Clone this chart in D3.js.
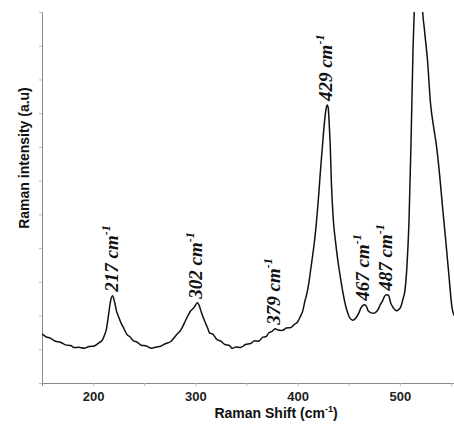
<!DOCTYPE html>
<html>
<head>
<meta charset="utf-8">
<script src="https://cdn.jsdelivr.net/npm/d3@7"></script>
<style>
  html, body { margin: 0; padding: 0; background: #fff; }
  svg { display: block; }
</style>
</head>
<body>
<div id="chart"></div>
<script>
// Raman spectrum
const shiftCm = [150,154,158,163,168,173,178,182,186,191,196,201,206,209,211,213,215,217,219,221,223,225,227,230,233,236,239,243,247,252,257,262,266,271,276,281,286,291,295,299,302,304,306,308,310,312,314,317,321,325,329,333,336,340,344,349,354,358,362,366,369,372,375,378,381,384,386,389,393,397,400,403,405,407,409,411,412,414,416,418,419,421,422,424,426,428,429,430,431,432,433,435,437,439,441,444,447,449,451,454,457,460,462,464,465,467,469,472,474,476,479,481,483,485,487,489,491,493,495,497,499,501,503,505,507,509,511,513,515,517,519,521,522,524,527,530,533,536,539,542,545,548,551,553];
const intensity = [146,137,133,124,121,113,111,105,106,103,108,110,120,127,141,160,200,242,259,240,212,196,180,162,144,137,126,121,112,110,103,107,109,117,123,141,158,189,212,225,238,228,208,192,177,163,148,145,129,124,114,112,103,107,105,114,117,125,124,136,137,149,153,161,157,156,157,163,164,174,181,199,213,241,264,297,318,362,407,462,496,571,615,690,764,815,824,815,764,699,600,482,422,372,330,274,229,208,193,186,193,208,223,230,232,229,214,208,207,209,219,233,243,257,262,260,238,226,218,214,218,226,248,274,348,482,719,1000,1180,1260,1300,1230,1120,1050,960,830,760,700,615,515,420,320,225,200];

// peak labels
const peakCm = [219, 302, 378, 429, 465, 487];
const peakText = ['217', '302', '379', '429', '467', '487'];

const xTicks = [200, 250, 300, 350, 400, 450, 500, 550];
const xTickLabels = [200, 300, 400, 500];

const width = 454, height = 430;
const margin = { top: 12, right: 0, bottom: 47, left: 42 };

const svg = d3.select('#chart').append('svg')
  .attr('width', width)
  .attr('height', height);

const x = d3.scaleLinear().domain([150, 553]).range([margin.left, width - margin.right]);
const y = d3.scaleLinear().domain([0, 1100]).range([height - margin.bottom, margin.top]);

svg.append('defs').append('clipPath').attr('id', 'clip')
  .append('rect')
  .attr('x', margin.left).attr('y', margin.top)
  .attr('width', width - margin.left - margin.right)
  .attr('height', height - margin.top - margin.bottom);

// axes
const gx = svg.append('g')
  .attr('transform', `translate(0,${height - margin.bottom})`)
  .call(d3.axisBottom(x).tickValues(xTicks).tickSize(3)
    .tickFormat(d => xTickLabels.includes(d) ? d : ''));
gx.select('.domain').attr('stroke', '#8a8a8a');
gx.selectAll('.tick line').attr('stroke', '#bbb');
gx.selectAll('.tick text')
  .attr('font-family', 'Liberation Sans, Arial, sans-serif')
  .attr('font-size', 13).attr('font-weight', 'bold')
  .attr('fill', '#222').attr('dy', '0.9em');

const gy = svg.append('g')
  .attr('transform', `translate(${margin.left},0)`)
  .call(d3.axisLeft(y).ticks(11).tickSize(3).tickFormat(''));
gy.select('.domain').attr('stroke', '#8a8a8a');
gy.selectAll('.tick line').attr('stroke', '#bbb');

// spectrum
const pts = shiftCm.map((c, i) => [c, intensity[i]]);
svg.append('path')
  .datum(pts)
  .attr('clip-path', 'url(#clip)')
  .attr('fill', 'none')
  .attr('stroke', '#111')
  .attr('stroke-width', 1.5)
  .attr('stroke-linejoin', 'round')
  .attr('d', d3.line().x(d => x(d[0])).y(d => y(d[1])).curve(d3.curveMonotoneX));

// peak labels, rotated
peakCm.forEach((c, i) => {
  const k = shiftCm.indexOf(c);
  const t = svg.append('text')
    .attr('transform', `translate(${x(c) + 5},${y(intensity[k]) - 4}) rotate(-90)`)
    .attr('font-family', 'Liberation Serif, Times New Roman, serif')
    .attr('font-style', 'italic').attr('font-weight', 'bold')
    .attr('font-size', 19).attr('fill', '#111');
  t.append('tspan').text(peakText[i] + ' cm');
  t.append('tspan').attr('dy', -8).attr('font-size', 12).text('-1');
});

// axis titles
svg.append('text')
  .attr('transform', `translate(29,158) rotate(-90)`)
  .attr('text-anchor', 'middle')
  .attr('font-family', 'Liberation Sans, Arial, sans-serif')
  .attr('font-size', 14).attr('font-weight', 'bold').attr('fill', '#111')
  .text('Raman intensity (a.u)');

const xt = svg.append('text')
  .attr('x', 276).attr('y', 418)
  .attr('text-anchor', 'middle')
  .attr('font-family', 'Liberation Sans, Arial, sans-serif')
  .attr('font-size', 14).attr('font-weight', 'bold').attr('fill', '#111');
xt.append('tspan').text('Raman Shift (cm');
xt.append('tspan').attr('dy', -6).attr('font-size', 9).text('-1');
xt.append('tspan').attr('dy', 6).text(')');
</script>
</body>
</html>
